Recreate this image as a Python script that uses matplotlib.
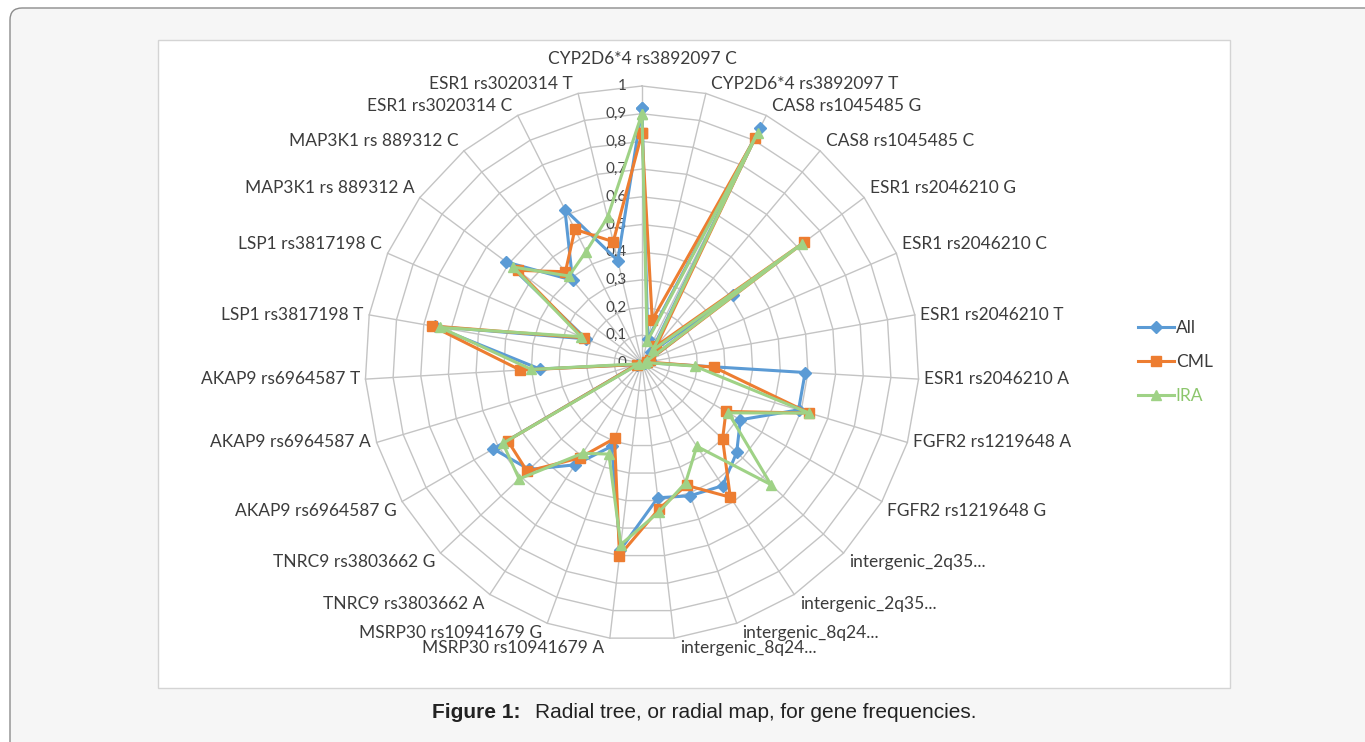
import numpy as np
import matplotlib
matplotlib.use('Agg')
import matplotlib.pyplot as plt
from matplotlib.patches import FancyBboxPatch, Rectangle
from matplotlib.lines import Line2D
from matplotlib.transforms import IdentityTransform

# ── Data ──────────────────────────────────────────────────────────────────────
categories = [
    'CYP2D6*4 rs3892097 C', 'CYP2D6*4 rs3892097 T', 'CAS8 rs1045485 G',
    'CAS8 rs1045485 C', 'ESR1 rs2046210 G', 'ESR1 rs2046210 C',
    'ESR1 rs2046210 T', 'ESR1 rs2046210 A', 'FGFR2 rs1219648 A',
    'FGFR2 rs1219648 G', 'intergenic_2q35...', 'intergenic_2q35...',
    'intergenic_8q24...', 'intergenic_8q24...', 'MSRP30 rs10941679 A',
    'MSRP30 rs10941679 G', 'TNRC9 rs3803662 A', 'TNRC9 rs3803662 G',
    'AKAP9 rs6964587 G', 'AKAP9 rs6964587 A', 'AKAP9 rs6964587 T',
    'LSP1 rs3817198 T', 'LSP1 rs3817198 C', 'MAP3K1 rs 889312 A',
    'MAP3K1 rs 889312 C', 'ESR1 rs3020314 C', 'ESR1 rs3020314 T',
]
all_vals = [0.92, 0.09, 0.95, 0.05, 0.41, 0.03, 0.01, 0.59, 0.59, 0.41,
            0.47, 0.53, 0.51, 0.49, 0.68, 0.32, 0.44, 0.56, 0.62, 0.02,
            0.37, 0.76, 0.22, 0.61, 0.39, 0.62, 0.38]
cml_vals = [0.83, 0.16, 0.91, 0.08, 0.73, 0.03, 0.02, 0.26, 0.63, 0.35,
            0.40, 0.58, 0.47, 0.53, 0.70, 0.29, 0.41, 0.57, 0.56, 0.02,
            0.44, 0.77, 0.23, 0.56, 0.43, 0.54, 0.45]
ira_vals = [0.90, 0.08, 0.93, 0.06, 0.72, 0.02, 0.01, 0.19, 0.63, 0.36,
            0.64, 0.36, 0.46, 0.54, 0.66, 0.35, 0.39, 0.61, 0.58, 0.01,
            0.40, 0.74, 0.24, 0.58, 0.41, 0.45, 0.54]
series_names = ['All', 'CML', 'IRA']
ring_levels = [0.1, 0.2, 0.3, 0.4, 0.5, 0.6, 0.7, 0.8, 0.9, 1.0]
ring_labels = ['0,1', '0,2', '0,3', '0,4', '0,5', '0,6', '0,7', '0,8', '0,9', '1']

W, H = 1365, 742
BLUE, ORANGE, GREEN = '#5b9bd5', '#ed7d31', '#9fd286'
GRID = '#c4c4c4'
TXT = '#3c3c3c'
LABEL_FONT = ['Lato', 'DejaVu Sans']

fig = plt.figure(figsize=(W / 100, H / 100), dpi=100)
fig.patch.set_facecolor('white')

# ── Page card + white chart box (pixel coords, origin bottom-left) ───────────
card = FancyBboxPatch((10, -30), 1400, H - 8 + 30,
                      boxstyle='round,pad=0,rounding_size=12',
                      transform=IdentityTransform(), facecolor='#f6f6f6',
                      edgecolor='#8c8c8c', lw=1.0, zorder=-3)
fig.patches.append(card)
box = Rectangle((158, H - 688), 1230 - 158, 688 - 40,
                transform=IdentityTransform(), facecolor='white',
                edgecolor='#d4d4d4', lw=1.0, zorder=-2)
fig.patches.append(box)

# ── Radar axes ────────────────────────────────────────────────────────────────
cx, cy, R = 642, 363, 277
ax = fig.add_axes([(cx - R) / W, (H - cy - R) / H, 2 * R / W, 2 * R / H],
                  projection='polar')
ax.set_zorder(2)
ax.set_theta_zero_location('N')
ax.set_theta_direction(-1)
ax.set_ylim(0, 1)
ax.set_axis_off()

n = len(categories)
theta = np.arange(n) * 2 * np.pi / n
theta_c = np.append(theta, theta[0])

# polygon gridlines + spokes
for lv in ring_levels:
    ax.plot(theta_c, [lv] * (n + 1), color=GRID, lw=1.0, zorder=1, clip_on=False)
for t in theta:
    ax.plot([t, t], [0, 1], color=GRID, lw=1.0, zorder=1, clip_on=False)

# radial value labels
for lv, lab in zip([0.0] + ring_levels, ['0'] + ring_labels):
    ax.annotate(lab, xy=(0, lv), xytext=(-11, 0), textcoords='offset points',
                ha='right', va='center', fontsize=11, color='#454545',
                family=LABEL_FONT, annotation_clip=False)

# category labels
for t, name in zip(theta, categories):
    s, c = np.sin(t), np.cos(t)
    if s > 0.01:
        ha, dx = 'left', 4
    elif s < -0.01:
        ha, dx = 'right', -4
    else:
        ha, dx = 'center', 0
    if c > 0.3:
        va, dy = 'bottom', 1
    elif c < -0.3:
        va, dy = 'top', -1
    else:
        va, dy = 'center', 0
    if abs(s) < 0.01 and c > 0:
        dy = 14
    ax.annotate(name, xy=(t, 1.0), xytext=(dx, dy), textcoords='offset points',
                ha=ha, va=va, fontsize=12.5, color=TXT, family=LABEL_FONT,
                annotation_clip=False)

# series
styles = [(all_vals, BLUE, 'D', 6), (cml_vals, ORANGE, 's', 7),
          (ira_vals, GREEN, '^', 7.5)]
handles = []
for (vals, col, mk, ms), name in zip(styles, series_names):
    v = np.append(vals, vals[0])
    ax.plot(theta_c, v, color=col, lw=2.2, marker=mk, ms=ms, mec=col, mfc=col,
            zorder=3, clip_on=False)
    handles.append(Line2D([], [], color=col, lw=2.2, marker=mk, ms=ms,
                          mec=col, mfc=col))

leg = fig.legend(handles, series_names, loc='center left',
                 bbox_to_anchor=(1122 / W, 1 - 362 / H), frameon=False,
                 handlelength=2.1, handletextpad=0.1, labelspacing=1.05,
                 prop={'family': LABEL_FONT, 'size': 12.5})
for txt in leg.get_texts():
    txt.set_color(TXT)
leg.get_texts()[2].set_color('#8cc66c')

# caption
fig.text(432 / W, 1 - 712 / H, 'Figure 1:', fontsize=15, weight='bold',
         family='Liberation Sans', va='center', color='#222222')
fig.text(535 / W, 1 - 712 / H, 'Radial tree, or radial map, for gene frequencies.',
         fontsize=15, family='Liberation Sans', va='center', color='#222222')

fig.savefig('out.png', dpi=100)
